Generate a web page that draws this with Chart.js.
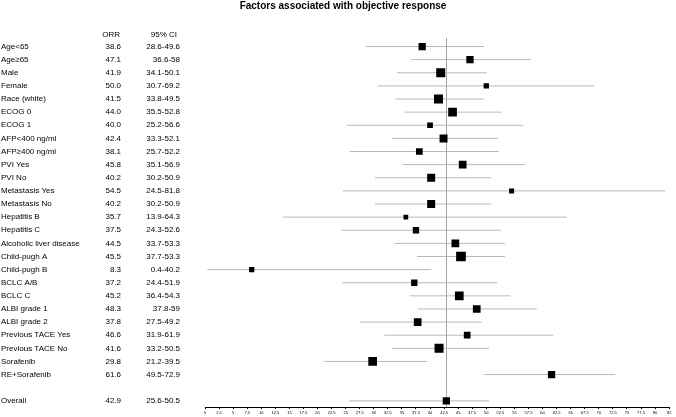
<!DOCTYPE html>
<html>
<head>
<meta charset="utf-8">
<script src="https://cdn.jsdelivr.net/npm/chart.js@4.4.1/dist/chart.umd.min.js"></script>
<style>
  html, body { margin: 0; padding: 0; background: #fff; }
  #wrap { width: 676px; height: 417px; }
</style>
</head>
<body>
<div id="wrap"><canvas id="c" width="676" height="417"></canvas></div>
<script>
const titleText = 'Factors associated with objective response';
const headerOrr = 'ORR';
const headerCi = '95% CI';
const categories = ['Age<65','Age≥65','Male','Female','Race (white)','ECOG 0','ECOG 1','AFP<400 ng/ml','AFP≥400 ng/ml','PVI Yes','PVI No','Metastasis Yes','Metastasis No','Hepatitis B','Hepatitis C','Alcoholic liver disease','Child-pugh A','Child-pugh B','BCLC A/B','BCLC C','ALBI grade 1','ALBI grade 2','Previous TACE Yes','Previous TACE No','Sorafenib','RE+Sorafenib','','Overall'];
const orr = [38.6,47.1,41.9,50.0,41.5,44.0,40.0,42.4,38.1,45.8,40.2,54.5,40.2,35.7,37.5,44.5,45.5,8.3,37.2,45.2,48.3,37.8,46.6,41.6,29.8,61.6,null,42.9];
const ciLow = [28.6,36.6,34.1,30.7,33.8,35.5,25.2,33.3,25.7,35.1,30.2,24.5,30.2,13.9,24.3,33.7,37.7,0.4,24.4,36.4,37.8,27.5,31.9,33.2,21.2,49.5,null,25.6];
const ciHigh = [49.6,58,50.1,69.2,49.5,52.8,56.6,52.1,52.2,56.9,50.9,81.8,50.9,64.3,52.6,53.3,53.3,40.2,51.9,54.3,59,49.2,61.9,50.5,39.5,72.9,null,50.5];
const weights = [7.3,7.3,9,5.3,9,8.7,5.7,8,6.7,7.7,8,5,8,4.7,6.3,7.7,9.7,5.3,6.3,8.7,7.7,7.7,6.7,9,8.7,7.3,null,7.3];
const tickLabels = ['0','2.5','5','7.5','10','12.5','15','17.5','20','22.5','25','27.5','30','32.5','35','37.5','40','42.5','45','47.5','50','52.5','55','57.5','60','62.5','65','67.5','70','72.5','75','77.5','80','82'];
const overallIndex = categories.indexOf('Overall');

const FONT = '"Liberation Sans", Arial, Helvetica, sans-serif';

const datasets = [];
categories.forEach((c, i) => {
  if (ciLow[i] == null) return;
  datasets.push({
    type: 'scatter', showLine: true,
    data: [{x: ciLow[i], y: i}, {x: ciHigh[i], y: i}],
    borderColor: '#b9b9b9', borderWidth: 1, pointRadius: 0, order: 2
  });
});
const pts = [], radii = [];
categories.forEach((c, i) => {
  if (orr[i] == null) return;
  pts.push({x: orr[i], y: i});
  radii.push(weights[i] / (2 * Math.SQRT1_2));
});
datasets.push({
  type: 'scatter', data: pts, pointStyle: 'rect', pointRadius: radii,
  pointHoverRadius: radii, backgroundColor: '#000', borderWidth: 0, order: 1
});

const tablePlugin = {
  id: 'table',
  beforeDatasetsDraw(chart) {
    const ctx = chart.ctx, xs = chart.scales.x, a = chart.chartArea;
    const px = Math.round(xs.getPixelForValue(orr[overallIndex])) + 0.5;
    ctx.save();
    ctx.strokeStyle = '#a6a6a6'; ctx.lineWidth = 1;
    ctx.beginPath(); ctx.moveTo(px, a.top); ctx.lineTo(px, a.bottom); ctx.stroke();
    ctx.restore();
  },
  afterDraw(chart) {
    const ctx = chart.ctx, ys = chart.scales.y;
    ctx.save();
    ctx.fillStyle = '#000';
    ctx.textBaseline = 'middle';
    ctx.font = 'bold 10px ' + FONT;
    ctx.textAlign = 'center';
    ctx.fillText(titleText, 343, 6.5);
    ctx.font = '8px ' + FONT;
    const hy = ys.getPixelForValue(-0.88);
    ctx.textAlign = 'right';
    ctx.fillText(headerOrr, 120, hy);
    ctx.fillText(headerCi, 177, hy);
    categories.forEach((c, i) => {
      if (!c) return;
      const y = ys.getPixelForValue(i);
      ctx.textAlign = 'left';
      ctx.fillText(c, 1, y);
      ctx.textAlign = 'right';
      ctx.fillText(orr[i].toFixed(1), 121, y);
      ctx.fillText(String(ciLow[i]) + '-' + String(ciHigh[i]), 180, y);
    });
    ctx.restore();
  }
};

new Chart(document.getElementById('c'), {
  type: 'scatter',
  data: { datasets },
  options: {
    responsive: false, animation: false, devicePixelRatio: 1,
    layout: { padding: { left: 205, right: 3, top: 38, bottom: 0 } },
    plugins: { legend: { display: false }, tooltip: { enabled: false }, title: { display: false } },
    scales: {
      x: {
        type: 'linear', min: 0, max: 82.5,
        afterBuildTicks(s) { s.ticks = tickLabels.map((t, i) => ({ value: i * 2.5 })); },
        afterFit(s) { s.height = 10; },
        grid: { drawOnChartArea: false, drawTicks: true, tickLength: 2, color: '#000', lineWidth: 1 },
        border: { display: true, color: '#000', width: 1 },
        ticks: {
          autoSkip: false, maxRotation: 0, minRotation: 0, padding: 1, color: '#000',
          font: { size: 4, family: FONT },
          callback(v, i) { return tickLabels[i]; }
        }
      },
      y: {
        type: 'linear', reverse: true, min: -0.65, max: 27.47, display: false
      }
    }
  },
  plugins: [tablePlugin]
});
</script>
</body>
</html>
